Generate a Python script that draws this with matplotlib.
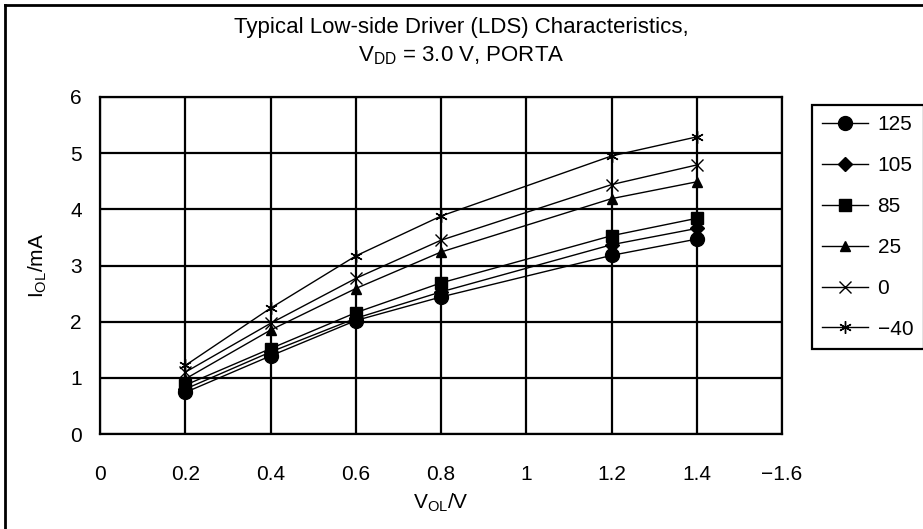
import matplotlib
matplotlib.use("Agg")
import matplotlib.pyplot as plt
from matplotlib.lines import Line2D

plt.rcParams['font.family'] = ['Liberation Sans', 'DejaVu Sans']
plt.rcParams['mathtext.default'] = 'regular'

# -----------------------------
# Data
# -----------------------------
x_ticks = ['0', '0.2', '0.4', '0.6', '0.8', '1', '1.2', '1.4', '\u22121.6']
x_points = ['0.2', '0.4', '0.6', '0.8', '1.2', '1.4']

temps = ['125', '105', '85', '25', '0', '\u221240']
i_125 = [0.74, 1.39, 2.02, 2.44, 3.18, 3.47]
i_105 = [0.80, 1.46, 2.06, 2.53, 3.37, 3.66]
i_85 = [0.87, 1.52, 2.16, 2.69, 3.53, 3.84]
i_25 = [0.98, 1.85, 2.59, 3.24, 4.19, 4.49]
i_0 = [1.10, 1.97, 2.77, 3.45, 4.44, 4.79]
i_m40 = [1.22, 2.24, 3.17, 3.88, 4.95, 5.29]

series = [i_125, i_105, i_85, i_25, i_0, i_m40]
markers = ['o', 'D', 's', '^', 'x', (6, 2, 0)]
msizes = [10, 7.5, 8.5, 7, 8, 9]

FS = 15

# -----------------------------
# Plot
# -----------------------------
fig = plt.figure(figsize=(9.23, 5.29), dpi=100)
ax = fig.add_axes([100/923, 1-434/529, 682/923, 337/529])

xpos = [x_ticks.index(v) for v in x_points]
for lab, ys, m, ms in zip(temps, series, markers, msizes):
    ax.plot(xpos, ys, color='black', lw=1.0, marker=m, markersize=ms,
            markeredgewidth=1.0, label=lab)

ax.set_xlim(0, len(x_ticks) - 1)
ax.set_ylim(0, 6)
ax.set_xticks(range(len(x_ticks)))
ax.set_xticklabels(x_ticks)
ax.set_yticks(range(0, 7))
ax.tick_params(axis='both', length=0, labelsize=FS)
ax.tick_params(axis='x', pad=22)
ax.tick_params(axis='y', pad=13)
ax.grid(True, color='black', lw=1.6)
for s in ax.spines.values():
    s.set_linewidth(1.6)

ax.set_xlabel('V$_{OL}$/V', fontsize=FS, labelpad=6)
fig.text(38/923, 1-265/529, 'I$_{OL}$/mA', rotation=90, fontsize=FS,
         ha='center', va='center')

fig.text(0.5, 1-28/529, 'Typical Low-side Driver (LDS) Characteristics,',
         fontsize=16, ha='center', va='center')
fig.text(0.5, 1-56/529, 'V$_{DD}$ = 3.0 V, PORTA',
         fontsize=16, ha='center', va='center')

leg = ax.legend(loc='upper left', bbox_to_anchor=(812/923, 1-105/529),
                bbox_transform=fig.transFigure, borderaxespad=0,
                fontsize=FS, handlelength=2.2, handletextpad=0.45,
                labelspacing=1.05, borderpad=0.5, fancybox=False,
                edgecolor='black', framealpha=1)
leg.get_frame().set_linewidth(1.6)

# outer border (left and top edges)
fig.add_artist(Line2D([5/923, 5/923], [0, 1-5/529], color='black', lw=2,
                      transform=fig.transFigure))
fig.add_artist(Line2D([5/923, 1], [1-5/529, 1-5/529], color='black', lw=2,
                      transform=fig.transFigure))

fig.savefig('out.png', dpi=100)
